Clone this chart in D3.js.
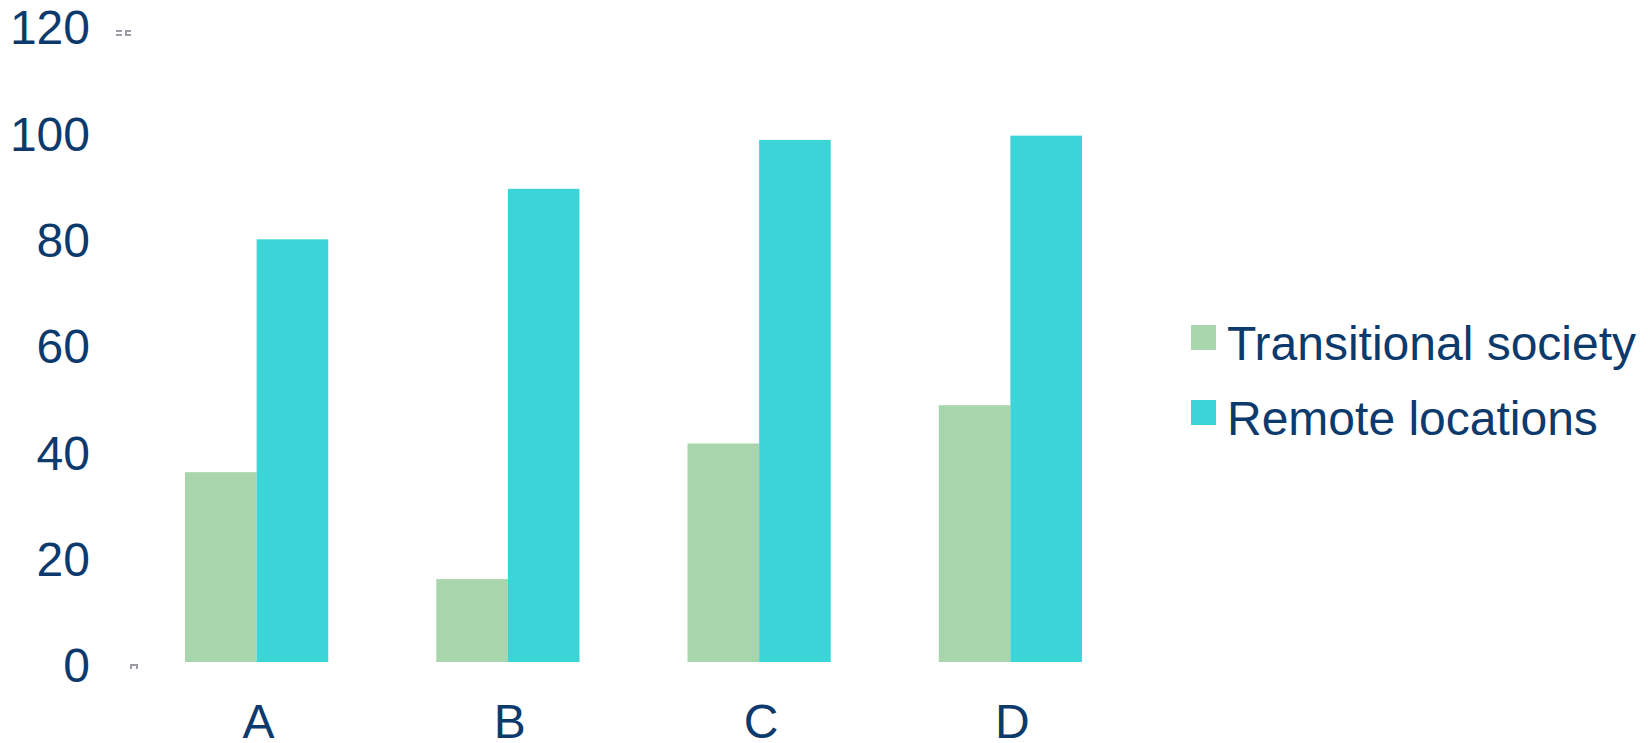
<!DOCTYPE html>
<html>
<head>
<meta charset="utf-8">
<script src="https://cdnjs.cloudflare.com/ajax/libs/d3/7.8.5/d3.min.js"></script>
<style>
  body { margin: 0; background: #fff; }
  text { font-family: "Liberation Sans", Arial, sans-serif; fill: #0d3a6c; }
</style>
</head>
<body>
<script>
// chart data
var categories = ["A", "B", "C", "D"];
var seriesNames = ["Transitional society", "Remote locations"];
var transitional = [35.7, 15.6, 41.1, 48.3];
var remote = [79.5, 89, 98.2, 99];
var yTicks = [0, 20, 40, 60, 80, 100, 120];
var colors = ["#a8d5ab", "#3bd5d8"];

(function(){
    var width = 1648, height = 743;

    var svg = d3.select("body").append("svg")
        .attr("width", width)
        .attr("height", height);

    // scales
    var x = d3.scaleBand()
        .domain(categories)
        .range([131, 1136])
        .paddingInner(0.43)
        .paddingOuter(0.215);

    var xInner = d3.scaleBand()
        .domain(seriesNames)
        .range([0, x.bandwidth()])
        .padding(0);

    var y = d3.scaleLinear()
        .domain([0, 120])
        .range([662, 24]);

    // rows for the bars
    var rows = categories.map(function(c, i){
        return {cat: c, vals: [transitional[i], remote[i]]};
    });

    var groups = svg.selectAll(".group")
        .data(rows)
        .enter().append("g")
        .attr("class", "group")
        .attr("transform", function(d){ return "translate(" + x(d.cat) + ",0)"; });

    groups.selectAll("rect")
        .data(function(d){
            return d.vals.map(function(v, j){ return {name: seriesNames[j], value: v, idx: j}; });
        })
        .enter().append("rect")
        .attr("x", function(d){ return xInner(d.name); })
        .attr("y", function(d){ return y(d.value); })
        .attr("width", xInner.bandwidth())
        .attr("height", function(d){ return y(0) - y(d.value); })
        .style("fill", function(d){ return colors[d.idx]; });

    // y axis labels
    svg.selectAll(".ylab")
        .data(yTicks)
        .enter().append("text")
        .attr("class", "ylab")
        .attr("x", 90)
        .attr("y", function(d){ return y(d) + 3; })
        .attr("dy", "0.36em")
        .attr("text-anchor", "end")
        .style("font-size", "48px")
        .text(function(d){ return d; });

    // x axis labels
    svg.selectAll(".xlab")
        .data(categories)
        .enter().append("text")
        .attr("class", "xlab")
        .attr("x", function(d){ return x(d) + x.bandwidth() / 2 + 2; })
        .attr("y", 738)
        .attr("text-anchor", "middle")
        .style("font-size", "48px")
        .text(function(d){ return d; });

    // small gray leftovers of the axis line
    var art = svg.append("g").style("fill", "#9c9dab");
    art.append("rect").attr("x", 116).attr("y", y(120) + 6).attr("width", 6).attr("height", 2);
    art.append("rect").attr("x", 116).attr("y", y(120) + 10).attr("width", 6).attr("height", 2);
    art.append("path")
        .attr("d", "M125," + (y(120) + 6) + "h6v2h-4v2h4v2h-6z");
    art.append("path")
        .attr("d", "M130," + (y(0) + 7) + "v-5h8v5h-2v-3h-4v3z");

    // legend
    var legend = svg.selectAll(".legend")
        .data(seriesNames)
        .enter().append("g")
        .attr("class", "legend")
        .attr("transform", function(d, i){ return "translate(1191," + (325 + i * 75) + ")"; });

    legend.append("rect")
        .attr("width", 25)
        .attr("height", 25)
        .style("fill", function(d, i){ return colors[i]; });

    legend.append("text")
        .attr("x", 36)
        .attr("y", 35)
        .style("font-size", "48px")
        .text(function(d){ return d; });
})();
</script>
</body>
</html>
